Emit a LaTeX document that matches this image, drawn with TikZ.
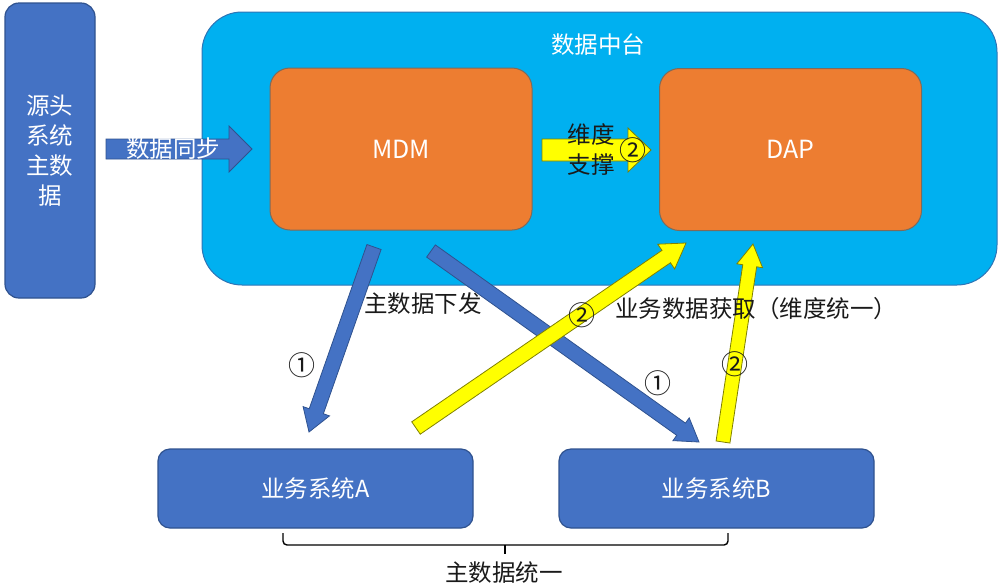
\documentclass[tikz,border=0pt]{standalone}
\usepackage{fontspec}
\setmainfont{Noto Sans CJK SC}
\usetikzlibrary{calc}
\definecolor{boxblue}{HTML}{4472C4}
\definecolor{boxblueline}{HTML}{2F528F}
\definecolor{dpblue}{HTML}{00B0F0}
\definecolor{dpline}{HTML}{2E75B6}
\definecolor{orng}{HTML}{ED7D31}
\definecolor{orngline}{HTML}{7F6A5A}
\definecolor{yel}{HTML}{FFFF00}
\definecolor{yelline}{HTML}{808000}
\definecolor{txt}{HTML}{1A1A1A}
\newcommand{\blockarr}[6]{%
  \coordinate (bah) at ($(#3)!#6!(#2)$);
  \draw[#1] ($(#2)!#4!90:(#3)$) -- ($(bah)!#4!90:(#3)$) -- ($(bah)!#5!90:(#3)$) -- (#3)
    -- ($(bah)!#5!-90:(#3)$) -- ($(bah)!#4!-90:(#3)$) -- ($(#2)!#4!-90:(#3)$) -- cycle;}
\tikzset{
  bigfont/.style={font=\fontsize{23.5}{30}\selectfont},
  bluebox/.style={draw=boxblueline, fill=boxblue, line width=1.2pt, text=white, bigfont},
  orbox/.style={draw=orngline, fill=orng, line width=1pt, text=white, font=\fontsize{25}{30}\selectfont, minimum width=262pt, minimum height=162pt, rounded corners=20pt},
  sysbox/.style={bluebox, minimum width=315pt, minimum height=79pt, rounded corners=12pt},
  bluearr/.style={fill=boxblue, draw=boxblueline, line width=0.8pt},
  yelarr/.style={fill=yel, draw=yelline, line width=0.8pt},
  lbl/.style={text=txt, bigfont, inner sep=0pt},
  circnum/.style={text=txt, font=\fontsize{27}{30}\selectfont, inner sep=0pt},
}
\begin{document}
\begin{tikzpicture}[x=1pt, y=-1pt]
\useasboundingbox (0,0) rectangle (999,587);
% source system
\node[bluebox, minimum width=90pt, minimum height=295pt, rounded corners=14pt, align=center] (src) at (50,150.5) {源头\\系统\\主数\\据};
% data middle platform
\node[draw=dpline, fill=dpblue, line width=1pt, minimum width=795pt, minimum height=273pt, rounded corners=40pt] (dp) at (599.5,148.5) {};
\node[text=white, bigfont] (dptitle) at (598,45) {数据中台};
\node[orbox] (mdm) at (401,149) {MDM};
\node[orbox] (dap) at (790.5,149.5) {DAP};
% business systems
\node[sysbox] (sysa) at (315.5,488.5) {业务系统A};
\node[sysbox] (sysb) at (716.5,488.5) {业务系统B};
% sync arrow
\coordinate (s1) at (106,149);
\coordinate (s2) at (252,149);
\blockarr{bluearr}{s1}{s2}{10pt}{23pt}{23pt}
\node[text=white, bigfont, inner sep=0pt] (synclbl) at (173,149) {数据同步};
% dimension support arrow
\coordinate (d1) at (542,150);
\coordinate (d2) at (651,150);
\blockarr{yelarr}{d1}{d2}{11pt}{22pt}{23pt}
\node[lbl, align=center] (dimlbl) at (591,150) {维度\\支撑};
\node[circnum] (c2a) at (633,150) {②};
% distribution arrows
\coordinate (a1s) at (374,247);
\coordinate (a1e) at (309,432);
\coordinate (a2s) at (431,251);
\coordinate (a2e) at (699,442);
\coordinate (a3s) at (416,428);
\coordinate (a3e) at (686,243);
\coordinate (a4s) at (723,442);
\coordinate (a4e) at (753,244);
\blockarr{bluearr}{a1s}{a1e}{7.5pt}{14pt}{22pt}
\blockarr{bluearr}{a2s}{a2e}{7.5pt}{14pt}{22pt}
\blockarr{yelarr}{a3s}{a3e}{7.5pt}{15pt}{24pt}
\blockarr{yelarr}{a4s}{a4e}{7pt}{13pt}{22pt}
% labels
\node[lbl] (lbl1) at (423,304) {主数据下发};
\node[lbl] (lbl2) at (756,309) {业务数据获取（维度统一）};
\node[circnum] (n1a) at (302,365) {①};
\node[circnum] (n2a) at (582,315) {②};
\node[circnum] (n1b) at (658,383) {①};
\node[circnum] (n2b) at (735,364) {②};
% bracket
\coordinate (bl) at (283,533);
\coordinate (br) at (728,533);
\coordinate (bm) at (505,545);
\coordinate (bt) at (505,554);
\draw[line width=1.4pt, rounded corners=4pt] (bl) |- (bm) -| (br);
\draw[line width=1.4pt] (bm) -- (bt);
\node[lbl] (unify) at (504,573) {主数据统一};
\end{tikzpicture}
\end{document}
